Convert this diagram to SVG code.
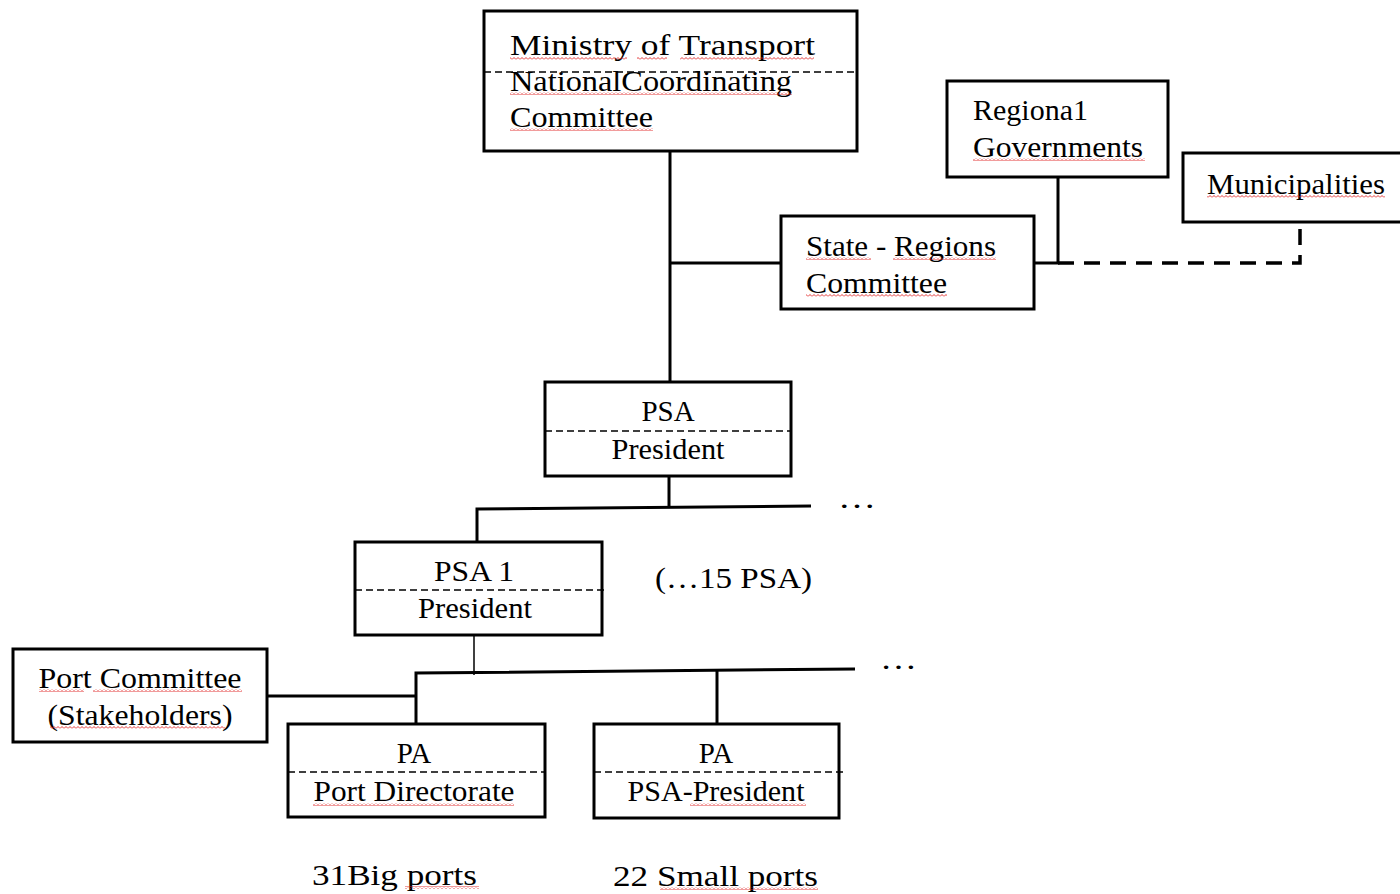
<svg xmlns="http://www.w3.org/2000/svg" width="1400" height="894" viewBox="0 0 1400 894">
<style>
.box{fill:#fff;stroke:#000;stroke-width:3}
.div{stroke:#000;stroke-width:1.5;stroke-dasharray:7 4;fill:none}
.t{font-family:"Liberation Serif","Times New Roman",serif;font-size:29px;fill:#000}
.c{text-anchor:middle}
.ln{stroke:#000;stroke-width:3;fill:none}
.thin{stroke:#000;stroke-width:1.5;fill:none}
.dash{stroke:#000;stroke-width:3.5;fill:none;stroke-dasharray:16 10}
.sq{fill:url(#sq)}
</style>
<defs>
<pattern id="sq" width="4" height="3" patternUnits="userSpaceOnUse">
<path d="M0,2.5 L2,0.5 L4,2.5" stroke="#e02020" fill="none" stroke-width="0.9"/>
</pattern>
</defs>
<rect width="1400" height="894" fill="#fff"/>
<g id="connectors">
<path class="ln" d="M670,151 V382"/>
<path class="ln" d="M670,263 H781"/>
<path class="ln" d="M1034,263 H1058 V177"/>
<path class="dash" d="M1058,263 H1300 V222"/>
<path class="ln" d="M669,476 V508"/>
<path class="ln" d="M477,542 V509 L811,506"/>
<path class="thin" d="M474,635 V675"/>
<path class="ln" d="M416,724 V673 L855,669"/>
<path class="ln" d="M717,671 V724"/>
<path class="ln" d="M267,696 H416"/>
</g>
<g id="ministry">
<rect class="box" x="484" y="11" width="373" height="140"/>
<path class="div" d="M484,72 H857"/>
<text class="t" x="510" y="55" textLength="305" lengthAdjust="spacingAndGlyphs">Ministry of Transport</text>
<text class="t" x="510" y="91" textLength="282" lengthAdjust="spacingAndGlyphs">NationalCoordinating</text>
<text class="t" x="510" y="127" textLength="143" lengthAdjust="spacingAndGlyphs">Committee</text>
<rect class="sq" x="510" y="57" width="117" height="3"/>
<rect class="sq" x="637" y="57" width="30" height="3"/>
<rect class="sq" x="680" y="57" width="134" height="3"/>
<rect class="sq" x="510" y="92" width="282" height="3"/>
<rect class="sq" x="510" y="128" width="143" height="3"/>
</g>
<g id="regional">
<rect class="box" x="947" y="81" width="221" height="96"/>
<text class="t" x="973" y="120" textLength="115" lengthAdjust="spacingAndGlyphs">Regiona1</text>
<text class="t" x="973" y="157" textLength="170" lengthAdjust="spacingAndGlyphs">Governments</text>
<rect class="sq" x="973" y="158" width="172" height="3"/>
</g>
<g id="municipalities">
<rect class="box" x="1183" y="153" width="225" height="69"/>
<text class="t" x="1207" y="194" textLength="178" lengthAdjust="spacingAndGlyphs">Municipalities</text>
<rect class="sq" x="1207" y="195" width="178" height="3"/>
</g>
<g id="state-regions">
<rect class="box" x="781" y="216" width="253" height="93"/>
<text class="t" x="806" y="256" textLength="190" lengthAdjust="spacingAndGlyphs">State - Regions</text>
<text class="t" x="806" y="293" textLength="141" lengthAdjust="spacingAndGlyphs">Committee</text>
<rect class="sq" x="806" y="257" width="65" height="3"/>
<rect class="sq" x="893" y="257" width="103" height="3"/>
<rect class="sq" x="806" y="294" width="141" height="3"/>
</g>
<g id="psa">
<rect class="box" x="545" y="382" width="246" height="94"/>
<path class="div" d="M545,431 H791"/>
<text class="t c" x="668" y="421">PSA</text>
<text class="t c" x="668" y="459" textLength="113" lengthAdjust="spacingAndGlyphs">President</text>
</g>
<text class="t" x="838" y="508" textLength="38" lengthAdjust="spacingAndGlyphs">…</text>
<g id="psa1">
<rect class="box" x="355" y="542" width="247" height="93"/>
<path class="div" d="M355,590 H606"/>
<text class="t c" x="474" y="581" textLength="80" lengthAdjust="spacingAndGlyphs">PSA 1</text>
<text class="t c" x="475" y="618" textLength="114" lengthAdjust="spacingAndGlyphs">President</text>
</g>
<text class="t" x="655" y="588" textLength="157" lengthAdjust="spacingAndGlyphs">(…15 PSA)</text>
<text class="t" x="880" y="669" textLength="37" lengthAdjust="spacingAndGlyphs">…</text>
<g id="port-committee">
<rect class="box" x="13" y="649" width="254" height="93"/>
<text class="t c" x="140" y="688" textLength="203" lengthAdjust="spacingAndGlyphs">Port Committee</text>
<text class="t c" x="140" y="725" textLength="185" lengthAdjust="spacingAndGlyphs">(Stakeholders)</text>
<rect class="sq" x="39" y="689" width="45" height="3"/>
<rect class="sq" x="93" y="689" width="149" height="3"/>
<rect class="sq" x="50" y="726" width="175" height="3"/>
</g>
<g id="pa-port-directorate">
<rect class="box" x="288" y="724" width="257" height="93"/>
<path class="div" d="M288,772 H545"/>
<text class="t c" x="414" y="763">PA</text>
<text class="t c" x="414" y="801" textLength="201" lengthAdjust="spacingAndGlyphs">Port Directorate</text>
<rect class="sq" x="313" y="803" width="201" height="3"/>
</g>
<g id="pa-psa-president">
<rect class="box" x="594" y="724" width="245" height="94"/>
<path class="div" d="M594,772 H843"/>
<text class="t c" x="716" y="763">PA</text>
<text class="t c" x="716" y="801" textLength="177" lengthAdjust="spacingAndGlyphs">PSA-President</text>
<rect class="sq" x="690" y="803" width="116" height="3"/>
</g>
<text class="t" x="312" y="885" textLength="165" lengthAdjust="spacingAndGlyphs">31Big ports</text>
<rect class="sq" x="405" y="886" width="74" height="3"/>
<text class="t" x="613" y="886" textLength="205" lengthAdjust="spacingAndGlyphs">22 Small ports</text>
<rect class="sq" x="660" y="887" width="158" height="3"/>
</svg>
